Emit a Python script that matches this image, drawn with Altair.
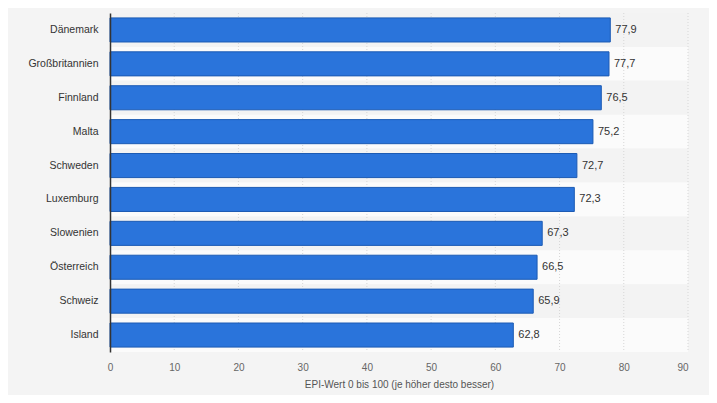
import altair as alt
import pandas as pd

countries = ["Dänemark", "Großbritannien", "Finnland", "Malta", "Schweden",
             "Luxemburg", "Slowenien", "Österreich", "Schweiz", "Island"]
values = [77.9, 77.7, 76.5, 75.2, 72.7, 72.3, 67.3, 66.5, 65.9, 62.8]
tick_values = [0, 10, 20, 30, 40, 50, 60, 70, 80, 90]
x_title = "EPI-Wert 0 bis 100 (je höher desto besser)"

df = pd.DataFrame({"land": countries, "wert": values})
df["stripe"] = [i % 2 for i in range(len(countries))]
grid_df = pd.DataFrame({"t": tick_values[1:]})

FONT = "Liberation Sans"
W, H = 578, 339

yenc = alt.Y(
    "land:N", sort=countries,
    scale=alt.Scale(paddingInner=0, paddingOuter=0),
    axis=alt.Axis(title=None, ticks=False, domain=True, domainColor="#333333",
                  domainWidth=1.5, labelPadding=12, labelFontSize=10.5,
                  labelColor="#333333", labelFont=FONT, grid=False),
)
xscale = alt.Scale(domain=[0, 90], nice=False, zero=True)
xaxis = alt.Axis(values=tick_values, grid=False, domain=False, ticks=False,
                 labelFlush=False,
                 labelAlign=alt.expr("datum.value == 90 ? 'right' : 'center'"),
                 labelPadding=10, labelFontSize=10, labelColor="#666666", labelFont=FONT,
                 title=x_title, titleFontWeight="normal", titleFontSize=10,
                 titleColor="#555555", titleFont=FONT, titlePadding=7)

bands = alt.Chart(df).mark_rect().encode(
    y=yenc,
    x=alt.value(0), x2=alt.value(W),
    color=alt.Color("stripe:N", scale=alt.Scale(domain=[0, 1], range=["#f3f3f3", "#fbfbfb"]), legend=None),
)

grid = alt.Chart(grid_df).mark_rule(color="#d6d6d6", strokeDash=[1, 2], strokeWidth=1).encode(
    x=alt.X("t:Q", scale=xscale, axis=xaxis)
)

bars = alt.Chart(df).mark_bar(height={"band": 0.71}, color="#2a74db", stroke="#1c5bb4", strokeWidth=1).encode(
    y=alt.Y("land:N", sort=countries),
    x=alt.X("wert:Q", scale=xscale, axis=xaxis),
)

labels = alt.Chart(df).transform_calculate(
    lbl="replace(format(datum.wert, '.1f'), '.', ',')"
).mark_text(align="left", baseline="middle", dx=5, fontSize=11, color="#333333", font=FONT).encode(
    y=alt.Y("land:N", sort=countries),
    x=alt.X("wert:Q", scale=xscale),
    text="lbl:N",
)

chart = alt.layer(bands, grid, bars, labels).properties(
    width=W, height=H,
    autosize=alt.AutoSizeParams(type="none"),
    padding={"left": 102, "top": 5, "right": 21, "bottom": 43},
    background="#f4f4f4",
).configure_view(stroke=None)

chart.save("out.html", embed_options={"renderer": "svg", "actions": False})
